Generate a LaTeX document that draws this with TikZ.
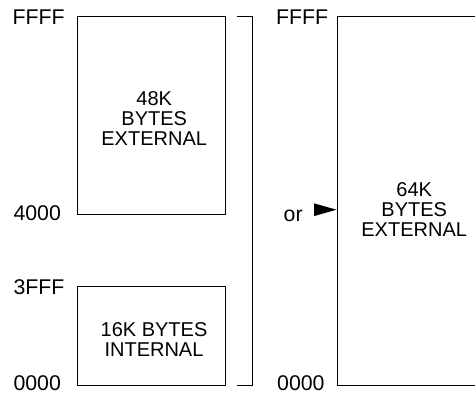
\documentclass[tikz,border=0pt]{standalone}
\usepackage{fontspec}
\setmainfont{Liberation Sans}
\begin{document}
\begin{tikzpicture}[x=1pt,y=-1pt,
  addr/.style={anchor=base west,inner sep=0pt,font=\fontsize{21.3}{21}\selectfont},
  boxtext/.style={align=center,inner sep=0pt,font=\fontsize{20}{20}\selectfont},
  memline/.style={line width=0.9pt,black}]
\useasboundingbox (0,0) rectangle (475,392);
% left upper box
\draw[memline] (77,16) rectangle (225.5,214.5);
\node[boxtext] (ext48) at (154.2,118.3) {48K\\BYTES\\EXTERNAL};
% left lower box
\draw[memline] (77,286) rectangle (225.5,385);
\node[boxtext] (int16) at (154,340) {16K BYTES\\INTERNAL};
% address labels left
\node[addr] (lffff) at (12.4,24) {FFFF};
\node[addr] (l4000) at (13.3,220) {4000};
\node[addr] (l3fff) at (13.3,294) {3FFF};
\node[addr] (l0000) at (13.3,390) {0000};
% bracket
\coordinate (bt1) at (237,16);
\coordinate (bt2) at (252.5,16);
\coordinate (bb2) at (252.5,385.5);
\coordinate (bb1) at (237,385.5);
\draw[memline] (bt1) -- (bt2) -- (bb2) -- (bb1);
% or + arrow
\node[addr] (or) at (283.5,221.5) {or};
\coordinate (tipA) at (314,203.3);
\coordinate (tipB) at (314,216.1);
\coordinate (tipC) at (336.5,209.7);
\fill (tipA) -- (tipC) -- (tipB) -- cycle;
% right box (open on the right)
\coordinate (rt1) at (475,16);
\coordinate (rt2) at (337,16);
\coordinate (rb2) at (337,385.5);
\coordinate (rb1) at (475,385.5);
\draw[memline] (rt1) -- (rt2) -- (rb2) -- (rb1);
\node[boxtext] (ext64) at (414.2,210) {64K\\BYTES\\EXTERNAL};
\node[addr] (rffff) at (276,24) {FFFF};
\node[addr] (r0000) at (277,390) {0000};
\end{tikzpicture}
\end{document}
